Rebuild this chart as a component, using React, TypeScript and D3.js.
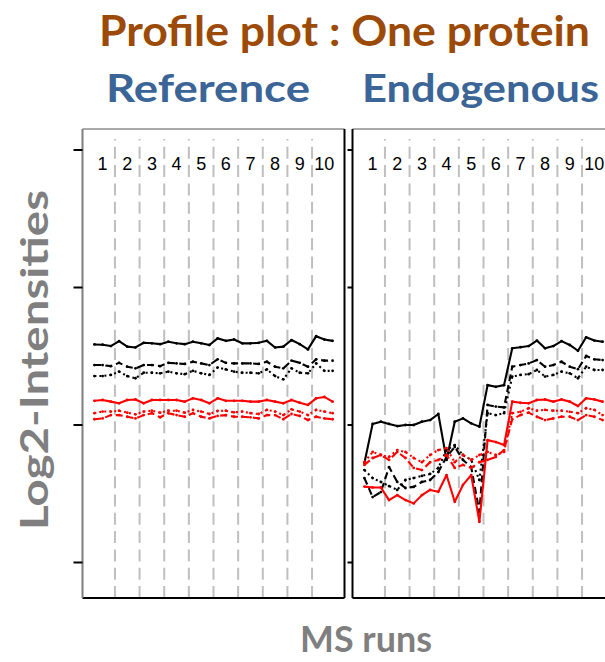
import React from "react";
import * as d3 from "d3";

// Run labels (conditions) shown along the top of each panel
const conditionLabels = ["1", "2", "3", "4", "5", "6", "7", "8", "9", "10"];
const runsPerCondition = 3;
const yTicks = [10, 15, 20, 25];

// Reference (heavy) channel: log2 intensities per run for each feature
const refBlackSolid = [17.93, 17.92, 17.87, 18.05, 17.85, 17.82, 17.99, 17.97, 17.94, 18.03, 17.97, 17.94, 18.03, 17.97, 17.91, 18.15, 18.06, 18.11, 17.97, 17.97, 17.99, 18.06, 17.82, 17.85, 18.09, 17.94, 17.75, 18.23, 18.11, 18.06];
const refBlackDashed = [17.18, 17.18, 17.14, 17.26, 17.12, 17.06, 17.18, 17.18, 17.14, 17.26, 17.24, 17.22, 17.30, 17.24, 17.18, 17.39, 17.26, 17.24, 17.24, 17.24, 17.22, 17.30, 17.12, 17.06, 17.34, 17.26, 17.12, 17.39, 17.34, 17.34];
const refBlackDotted = [16.78, 16.78, 16.82, 16.94, 16.78, 16.70, 16.90, 16.90, 16.88, 16.94, 16.88, 16.85, 16.97, 16.88, 16.82, 17.09, 17.02, 16.94, 16.90, 16.90, 16.88, 17.02, 16.78, 16.66, 17.06, 16.90, 16.88, 17.24, 16.97, 16.97];
const refRedSolid = [15.88, 15.91, 15.85, 15.79, 15.91, 15.93, 15.79, 15.91, 15.91, 15.91, 15.91, 15.85, 15.97, 15.91, 15.79, 15.97, 15.88, 15.88, 15.88, 15.85, 15.85, 15.91, 15.85, 15.79, 15.91, 15.81, 15.73, 15.97, 16.02, 15.85];
const refRedDashed = [15.21, 15.24, 15.36, 15.36, 15.30, 15.24, 15.36, 15.43, 15.28, 15.43, 15.36, 15.30, 15.43, 15.30, 15.24, 15.33, 15.36, 15.30, 15.30, 15.28, 15.24, 15.36, 15.36, 15.21, 15.40, 15.33, 15.18, 15.30, 15.24, 15.21];
const refRedDotted = [15.43, 15.49, 15.49, 15.52, 15.45, 15.39, 15.49, 15.52, 15.45, 15.52, 15.52, 15.45, 15.55, 15.49, 15.40, 15.51, 15.52, 15.46, 15.49, 15.43, 15.40, 15.55, 15.49, 15.36, 15.57, 15.49, 15.36, 15.55, 15.49, 15.43];

// Endogenous (light) channel
const endoBlackSolid = [13.62, 15.04, 15.12, 15.04, 14.96, 15.0, 15.0, 15.12, 15.18, 15.40, 13.73, 15.12, 15.24, 15.06, 14.94, 16.45, 16.39, 16.45, 17.79, 17.83, 17.87, 18.07, 17.79, 17.87, 18.05, 17.91, 17.70, 18.19, 18.07, 18.03];
const endoBlackDashed = [13.07, 12.38, 12.56, 13.47, 12.93, 12.71, 12.75, 12.93, 13.0, 13.29, 13.84, 14.2, 13.73, 13.47, 11.84, 15.73, 15.67, 15.64, 17.12, 17.18, 17.24, 17.36, 17.12, 17.18, 17.30, 17.12, 17.03, 17.51, 17.39, 17.36];
const endoBlackDotted = [13.36, 13.07, 12.93, 12.78, 12.64, 13.0, 13.07, 13.15, 13.22, 13.44, 14.09, 14.27, 13.91, 13.73, 13.0, 15.43, 15.36, 15.43, 16.76, 16.82, 16.85, 17.0, 16.76, 16.82, 16.94, 16.88, 16.70, 17.12, 17.0, 17.0];
const endoRedSolid = [12.76, 12.73, 12.73, 12.27, 12.45, 12.27, 12.15, 12.45, 12.64, 12.57, 13.18, 12.21, 12.82, 13.18, 11.48, 14.45, 14.38, 14.27, 15.85, 15.81, 15.79, 15.91, 15.93, 15.85, 15.93, 15.85, 15.69, 15.97, 15.93, 15.85];
const endoRedDashed = [13.55, 13.8, 13.91, 13.73, 14.02, 13.8, 13.44, 13.36, 13.65, 13.73, 13.91, 13.44, 13.55, 13.44, 13.65, 13.73, 13.84, 14.09, 15.21, 15.36, 15.45, 15.30, 15.18, 15.24, 15.30, 15.30, 15.18, 15.36, 15.30, 15.18];
const endoRedDotted = [13.65, 14.02, 13.91, 13.84, 14.09, 14.02, 13.8, 13.65, 13.91, 14.09, 14.16, 13.65, 13.91, 13.73, 13.91, 14.02, 13.91, 14.02, 15.43, 15.48, 15.61, 15.52, 15.55, 15.52, 15.52, 15.48, 15.43, 15.61, 15.55, 15.36];

type Series = { values: number[]; color: string; dash: string | null };

const styleOf = (color: string, kind: "solid" | "dashed" | "dotted") => ({
  color,
  dash: kind === "solid" ? null : kind === "dashed" ? "7 4" : "2 3",
});

const refSeries: Series[] = [
  { values: refBlackSolid, ...styleOf("#000000", "solid") },
  { values: refBlackDashed, ...styleOf("#000000", "dashed") },
  { values: refBlackDotted, ...styleOf("#000000", "dotted") },
  { values: refRedSolid, ...styleOf("#ff0000", "solid") },
  { values: refRedDashed, ...styleOf("#ff0000", "dashed") },
  { values: refRedDotted, ...styleOf("#ff0000", "dotted") },
];

const endoSeries: Series[] = [
  { values: endoBlackSolid, ...styleOf("#000000", "solid") },
  { values: endoBlackDashed, ...styleOf("#000000", "dashed") },
  { values: endoBlackDotted, ...styleOf("#000000", "dotted") },
  { values: endoRedSolid, ...styleOf("#ff0000", "solid") },
  { values: endoRedDashed, ...styleOf("#ff0000", "dashed") },
  { values: endoRedDotted, ...styleOf("#ff0000", "dotted") },
];

const W = 605;
const H = 662;
const panelTop = 129;
const panelBottom = 598;
const panelWidth = 262;
const nRuns = conditionLabels.length * runsPerCondition;

const y = d3.scaleLinear().domain([10, 25]).range([562.5, 150]);

function Panel({ left, series, leftAxis }: { left: number; series: Series[]; leftAxis: boolean }) {
  const pad = (nRuns - 1) * 0.05;
  const x = d3
    .scaleLinear()
    .domain([1 - pad, nRuns + pad])
    .range([left, left + panelWidth]);
  const line = d3
    .line<number>()
    .x((_, i) => x(i + 1))
    .y((v) => y(v));
  const bounds = d3.range(1, conditionLabels.length).map((c) => c * runsPerCondition + 0.5);
  return (
    <g>
      {/* condition separators */}
      {bounds.map((b) => (
        <line
          key={b}
          x1={x(b)}
          x2={x(b)}
          y1={panelBottom}
          y2={panelTop + 10}
          stroke="#bfbfbf"
          strokeWidth={2}
          strokeDasharray="12 6.3"
        />
      ))}
      {conditionLabels.map((lab, i) => (
        <text
          key={lab}
          x={x(i * runsPerCondition + 2)}
          y={170}
          textAnchor="middle"
          fontFamily="Liberation Sans, Arial, sans-serif"
          fontSize={18}
          fill="#000"
        >
          {lab}
        </text>
      ))}
      {series.map((s, si) => (
        <g key={si}>
          <path
            d={line(s.values) || ""}
            fill="none"
            stroke={s.color}
            strokeWidth={2.1}
            strokeDasharray={s.dash || undefined}
            strokeLinejoin="round"
          />
          {s.values.map((v, i) => (
            <circle key={i} cx={x(i + 1)} cy={y(v)} r={1.4} fill={s.color} />
          ))}
        </g>
      ))}
      {/* frame */}
      <line x1={left} x2={left + panelWidth} y1={panelTop} y2={panelTop} stroke="#555" strokeWidth={1} />
      <line x1={left} x2={left + panelWidth} y1={panelBottom} y2={panelBottom} stroke="#000" strokeWidth={2} />
      <line
        x1={left}
        x2={left}
        y1={panelTop}
        y2={panelBottom}
        stroke={leftAxis ? "#7f7f7f" : "#000"}
        strokeWidth={2}
      />
      <line x1={left + panelWidth} x2={left + panelWidth} y1={panelTop} y2={panelBottom} stroke="#000" strokeWidth={2} />
      {yTicks.map((t) => (
        <line
          key={t}
          x1={left - (leftAxis ? 9 : 5)}
          x2={left}
          y1={y(t)}
          y2={y(t)}
          stroke="#000"
          strokeWidth={2}
        />
      ))}
    </g>
  );
}

export default function App() {
  return (
    <svg
      width={W}
      height={H}
      viewBox={`0 0 ${W} ${H}`}
      style={{ position: "absolute", left: 0, top: 0, display: "block", background: "#fff" }}
    >
      <rect width={W} height={H} fill="#fff" />
      <text
        x={99}
        y={46}
        fontFamily="Lato, 'Open Sans', sans-serif"
        fontWeight={700}
        fontSize={42}
        fill="#9c4a07"
        textLength={491}
        lengthAdjust="spacingAndGlyphs"
      >
        Profile plot : One protein
      </text>
      <text
        x={106}
        y={102}
        fontFamily="Lato, 'Open Sans', sans-serif"
        fontWeight={700}
        fontSize={39}
        fill="#3b6497"
        textLength={204}
        lengthAdjust="spacingAndGlyphs"
      >
        Reference
      </text>
      <text
        x={362}
        y={102}
        fontFamily="Lato, 'Open Sans', sans-serif"
        fontWeight={700}
        fontSize={39}
        fill="#3b6497"
        textLength={237}
        lengthAdjust="spacingAndGlyphs"
      >
        Endogenous
      </text>
      <text
        transform="translate(48,360) rotate(-90)"
        textAnchor="middle"
        fontFamily="Lato, 'Open Sans', sans-serif"
        fontWeight={700}
        fontSize={38}
        fill="#7f7f7f"
        textLength={340}
        lengthAdjust="spacingAndGlyphs"
      >
        Log2-Intensities
      </text>
      <text
        x={366}
        y={652}
        textAnchor="middle"
        fontFamily="Lato, 'Open Sans', sans-serif"
        fontWeight={700}
        fontSize={37}
        fill="#7f7f7f"
        textLength={132}
        lengthAdjust="spacingAndGlyphs"
      >
        MS runs
      </text>
      <Panel left={82.5} series={refSeries} leftAxis={true} />
      <Panel left={352.5} series={endoSeries} leftAxis={false} />
    </svg>
  );
}
